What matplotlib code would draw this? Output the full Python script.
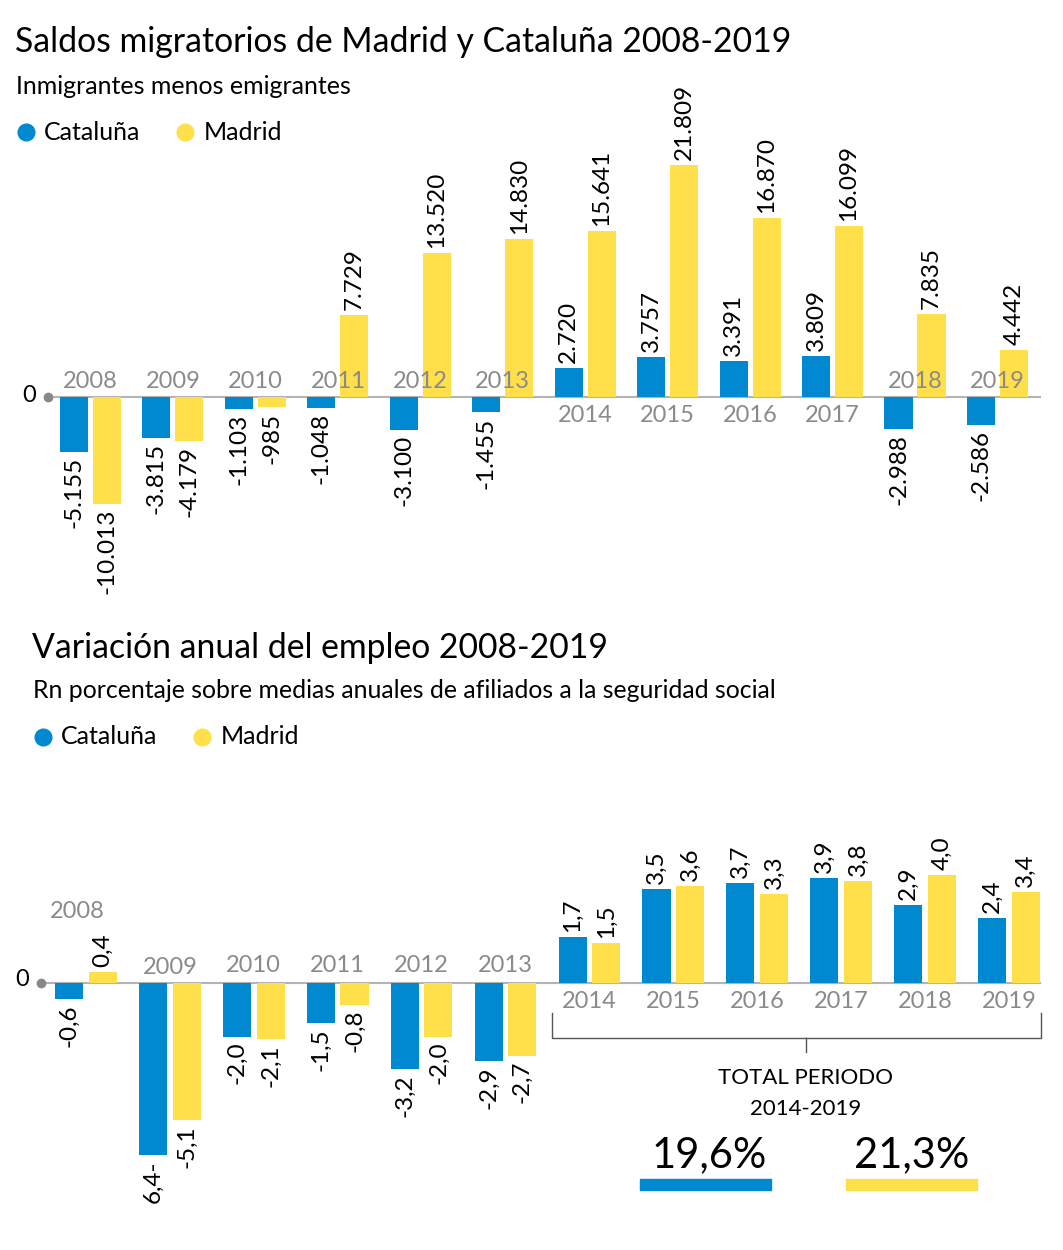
import numpy as np
import matplotlib.pyplot as plt
from matplotlib.lines import Line2D
from matplotlib.patches import Rectangle

plt.rcParams['font.family'] = ['Lato', 'DejaVu Sans']

# --- data ---
years = ['2008', '2009', '2010', '2011', '2012', '2013',
         '2014', '2015', '2016', '2017', '2018', '2019']

saldo_cat = [-5155, -3815, -1103, -1048, -3100, -1455, 2720, 3757, 3391, 3809, -2988, -2586]
saldo_mad = [-10013, -4179, -985, 7729, 13520, 14830, 15641, 21809, 16870, 16099, 7835, 4442]
saldo_cat_txt = ['-5.155', '-3.815', '-1.103', '-1.048', '-3.100', '-1.455',
                 '2.720', '3.757', '3.391', '3.809', '-2.988', '-2.586']
saldo_mad_txt = ['-10.013', '-4.179', '-985', '7.729', '13.520', '14.830',
                 '15.641', '21.809', '16.870', '16.099', '7.835', '4.442']

empleo_cat = [-0.6, -6.4, -2.0, -1.5, -3.2, -2.9, 1.7, 3.5, 3.7, 3.9, 2.9, 2.4]
empleo_mad = [0.4, -5.1, -2.1, -0.8, -2.0, -2.7, 1.5, 3.6, 3.3, 3.8, 4.0, 3.4]
empleo_cat_txt = ['-0,6', '6,4-', '-2,0', '-1,5', '-3,2', '-2,9', '1,7', '3,5', '3,7', '3,9', '2,9', '2,4']
empleo_mad_txt = ['0,4', '-5,1', '-2,1', '-0,8', '-2,0', '-2,7', '1,5', '3,6', '3,3', '3,8', '4,0', '3,4']

total_cat = '19,6%'
total_mad = '21,3%'

BLUE = '#0088d1'
YELLOW = '#ffe04a'
GRAY = '#8a8a8a'
AXIS = '#b4b4b4'

W, H = 1063, 1250
fig = plt.figure(figsize=(W / 100, H / 100), dpi=100)


def fx(x):
    return x / W


def fy(y):
    return 1 - y / H


def ftext(x, y, s, **kw):
    fig.text(fx(x), fy(y), s, **kw)


def make_axes(top, bottom, x0_px, step_px, zero_px, scale):
    ax = fig.add_axes([0, fy(bottom), 1, (bottom - top) / H])
    ax.set_xlim(-x0_px / step_px, (W - x0_px) / step_px)
    ax.set_ylim((zero_px - bottom) / scale, (zero_px - top) / scale)
    ax.axis('off')
    return ax


def px_to_x(ax, px):
    a, b = ax.get_xlim()
    return a + px / W * (b - a)


def draw_bars(ax, cat, mad, cat_txt, mad_txt, off, width):
    x = np.arange(len(years))
    ax.bar(x - off, cat, width, color=BLUE, zorder=2)
    ax.bar(x + off, mad, width, color=YELLOW, zorder=2)
    for xs, vals, txts in ((x - off, cat, cat_txt), (x + off, mad, mad_txt)):
        for xi, v, t in zip(xs, vals, txts):
            ax.annotate(t, (xi, v), xytext=(0, 5 if v >= 0 else -5),
                        textcoords='offset pixels', rotation=90,
                        ha='center', va='bottom' if v >= 0 else 'top',
                        fontsize=17.5, color='black', zorder=3)


def draw_axis(ax, left_px, right_px):
    ax.plot([px_to_x(ax, left_px), px_to_x(ax, right_px)], [0, 0],
            color=AXIS, lw=1.5, zorder=1)
    ax.plot([px_to_x(ax, left_px)], [0], 'o', color='#888888', ms=6, zorder=4)


def legend(y, x):
    fig.add_artist(Line2D([fx(x)], [fy(y)], marker='o', color=BLUE, ms=12,
                          transform=fig.transFigure))
    ftext(x + 18, y, 'Cataluña', fontsize=18, va='center')
    fig.add_artist(Line2D([fx(x + 159)], [fy(y)], marker='o', color=YELLOW, ms=12,
                          transform=fig.transFigure))
    ftext(x + 178, y, 'Madrid', fontsize=18, va='center')


# ---------------- top chart ----------------
ftext(15, 42, 'Saldos migratorios de Madrid y Cataluña 2008-2019', fontsize=24.3, va='center')
ftext(16, 87, 'Inmigrantes menos emigrantes', fontsize=18, va='center')
legend(132, 26)

ax1 = make_axes(60, 610, 90.5, 82.45, 397, 0.01064)
draw_axis(ax1, 48, 1040)
draw_bars(ax1, saldo_cat, saldo_mad, saldo_cat_txt, saldo_mad_txt, 0.2, 0.34)
for i, yr in enumerate(years):
    below = saldo_cat[i] > 0
    ax1.annotate(yr, (i, 0), xytext=(0, -19 if below else 16), textcoords='offset pixels',
                 ha='center', va='center', fontsize=17, color=GRAY, zorder=3)
ftext(29, 396, '0', fontsize=17, va='center', ha='center')

# ---------------- bottom chart ----------------
ftext(32, 648, 'Variación anual del empleo 2008-2019', fontsize=24.3, va='center')
ftext(33, 691, 'Rn porcentaje sobre medias anuales de afiliados a la seguridad social',
      fontsize=17.9, va='center')
legend(737, 43)

ax2 = make_axes(610, 1250, 86, 83.9, 983, 26.9)
draw_axis(ax2, 41, 1040)
draw_bars(ax2, empleo_cat, empleo_mad, empleo_cat_txt, empleo_mad_txt, 0.2, 0.335)
for i, yr in enumerate(years):
    if i == 0:
        off, dx = 71, -9
    elif empleo_cat[i] > 0:
        off, dx = -19, 0
    elif i == 1:
        off, dx = 15, 0
    else:
        off, dx = 17, 0
    ax2.annotate(yr, (i, 0), xytext=(dx, off), textcoords='offset pixels',
                 ha='center', va='center', fontsize=17, color=GRAY, zorder=3)
ftext(22, 980, '0', fontsize=17, va='center', ha='center')

# bracket for the 2014-2019 period
bk = dict(color='#555555', lw=1, transform=fig.transFigure)
fig.add_artist(Line2D([fx(552), fx(552), fx(1041), fx(1041)],
                      [fy(1013), fy(1038), fy(1038), fy(1013)], **bk))
fig.add_artist(Line2D([fx(806), fx(806)], [fy(1038), fy(1052)], **bk))
ftext(806, 1078, 'TOTAL PERIODO', fontsize=16, ha='center', va='center')
ftext(806, 1109, '2014-2019', fontsize=16, ha='center', va='center')

ftext(709, 1155, total_cat, fontsize=30, ha='center', va='center')
ftext(912, 1155, total_mad, fontsize=30, ha='center', va='center')
fig.add_artist(Rectangle((fx(640), fy(1190)), fx(131), 11 / H, color=BLUE,
                         transform=fig.transFigure))
fig.add_artist(Rectangle((fx(846), fy(1190)), fx(131), 11 / H, color=YELLOW,
                         transform=fig.transFigure))

fig.savefig('out.png', dpi=100, facecolor='white')
